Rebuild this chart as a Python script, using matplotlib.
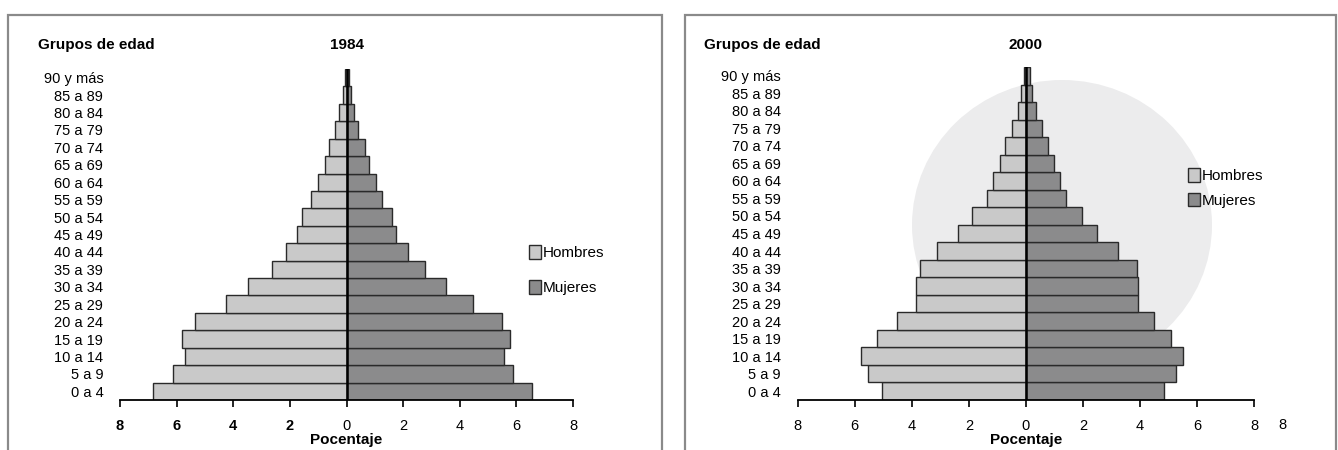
import matplotlib
matplotlib.use("Agg")
import matplotlib.pyplot as plt
from matplotlib.patches import Rectangle, Ellipse
import numpy as np

plt.rcParams['font.family'] = ['Liberation Sans Narrow', 'Liberation Sans', 'DejaVu Sans']

# --- data ---
grupos = ["0 a 4", "5 a 9", "10 a 14", "15 a 19", "20 a 24", "25 a 29", "30 a 34",
          "35 a 39", "40 a 44", "45 a 49", "50 a 54", "55 a 59", "60 a 64",
          "65 a 69", "70 a 74", "75 a 79", "80 a 84", "85 a 89", "90 y más"]

hombres_1984 = [6.83, 6.12, 5.71, 5.80, 5.36, 4.27, 3.47, 2.64, 2.15, 1.74,
                1.56, 1.25, 1.02, 0.75, 0.63, 0.39, 0.25, 0.13, 0.07]
mujeres_1984 = [6.55, 5.89, 5.55, 5.78, 5.49, 4.47, 3.53, 2.77, 2.17, 1.76,
                1.62, 1.27, 1.05, 0.79, 0.67, 0.41, 0.27, 0.15, 0.08]

hombres_2000 = [5.05, 5.54, 5.77, 5.23, 4.51, 3.85, 3.85, 3.71, 3.12, 2.39,
                1.88, 1.37, 1.14, 0.90, 0.73, 0.47, 0.29, 0.16, 0.06]
mujeres_2000 = [4.85, 5.28, 5.51, 5.10, 4.50, 3.93, 3.95, 3.89, 3.23, 2.48,
                1.96, 1.41, 1.19, 0.98, 0.79, 0.55, 0.34, 0.23, 0.13]

ticks = [-8, -6, -4, -2, 0, 2, 4, 6, 8]
tick_labels = ["8", "6", "4", "2", "0", "2", "4", "6", "8"]

COL_H = "#c9c9c9"
COL_M = "#8b8b8c"
EDGE = "#2a2a2a"

W, H = 1338, 450
fig = plt.figure(figsize=(W / 100, H / 100), dpi=100)


def fx(px):
    return px / W


def fy(py):
    return 1 - py / H


# --- faint watermark behind the right panel ---
fig.patches.append(Ellipse((fx(1062), fy(225)), 300 / W, 290 / H, transform=fig.transFigure,
                           facecolor="#ececed", edgecolor="none", zorder=-5))

# --- panel frames ---
for x0, x1 in [(8, 662), (685, 1336)]:
    fig.patches.append(Rectangle((fx(x0), fy(470)), (x1 - x0) / W, 455 / H,
                                 transform=fig.transFigure, fill=False,
                                 edgecolor="#8a8a8a", lw=1.6, zorder=1))


def pyramid(left_px, right_px, top_px, hombres, mujeres, year, bold_left,
            leg_x, leg_y, leg_space, panel_left):
    ax = fig.add_axes([fx(left_px), fy(400), (right_px - left_px) / W, (400 - top_px) / H])
    ax.patch.set_alpha(0)
    y = np.arange(len(grupos))
    bh = ax.barh(y, [-v for v in hombres], height=1.0, color=COL_H, edgecolor=EDGE,
                 lw=1.0, label="Hombres")
    bm = ax.barh(y, mujeres, height=1.0, color=COL_M, edgecolor=EDGE, lw=1.0,
                 label="Mujeres")
    ax.plot([0, 0], [-0.5, len(grupos) - 0.5], color="black", lw=1.8, zorder=5)
    ax.set_xlim(-8, 8)
    ax.set_ylim(-0.5, len(grupos) - 0.5)
    for s in ["top", "right", "left"]:
        ax.spines[s].set_visible(False)
    ax.spines["bottom"].set_linewidth(1.3)
    ax.set_yticks(y)
    ax.set_yticklabels(grupos, fontsize=10.5)
    ax.tick_params(axis="y", length=0, pad=12)
    ax.set_xticks(ticks)
    ax.set_xticklabels(tick_labels, fontsize=10.5)
    ax.tick_params(axis="x", length=5, width=1.2, direction="out", pad=9)
    if bold_left:
        for lab in ax.get_xticklabels()[:4]:
            lab.set_fontweight("bold")
    mid = (left_px + right_px) / 2
    fig.text(fx(mid), fy(45), year, ha="center", va="center", fontsize=11, fontweight="bold")
    fig.text(fx(panel_left), fy(45), "Grupos de edad", ha="left", va="center",
             fontsize=11, fontweight="bold")
    fig.text(fx(mid), fy(440), "Pocentaje", ha="center", va="center", fontsize=11,
             fontweight="bold")
    fig.legend(handles=[bh, bm], loc="center left", bbox_to_anchor=(fx(leg_x), fy(leg_y)),
               frameon=False, fontsize=11, handlelength=0.8, handleheight=1.0,
               handletextpad=0.15, labelspacing=leg_space, borderpad=0)
    return ax


pyramid(120, 573, 69, hombres_1984, mujeres_1984, "1984", True, 521, 270, 1.3, 38)
pyramid(797.7, 1254, 67, hombres_2000, mujeres_2000, "2000", False, 1180, 188, 0.6, 704)
# stray extra "8" that sits beside the last tick label of the 2000 panel
fig.text(fx(1282), fy(425), "8", ha="center", va="center", fontsize=10.5)

fig.savefig("out.png", dpi=100)
